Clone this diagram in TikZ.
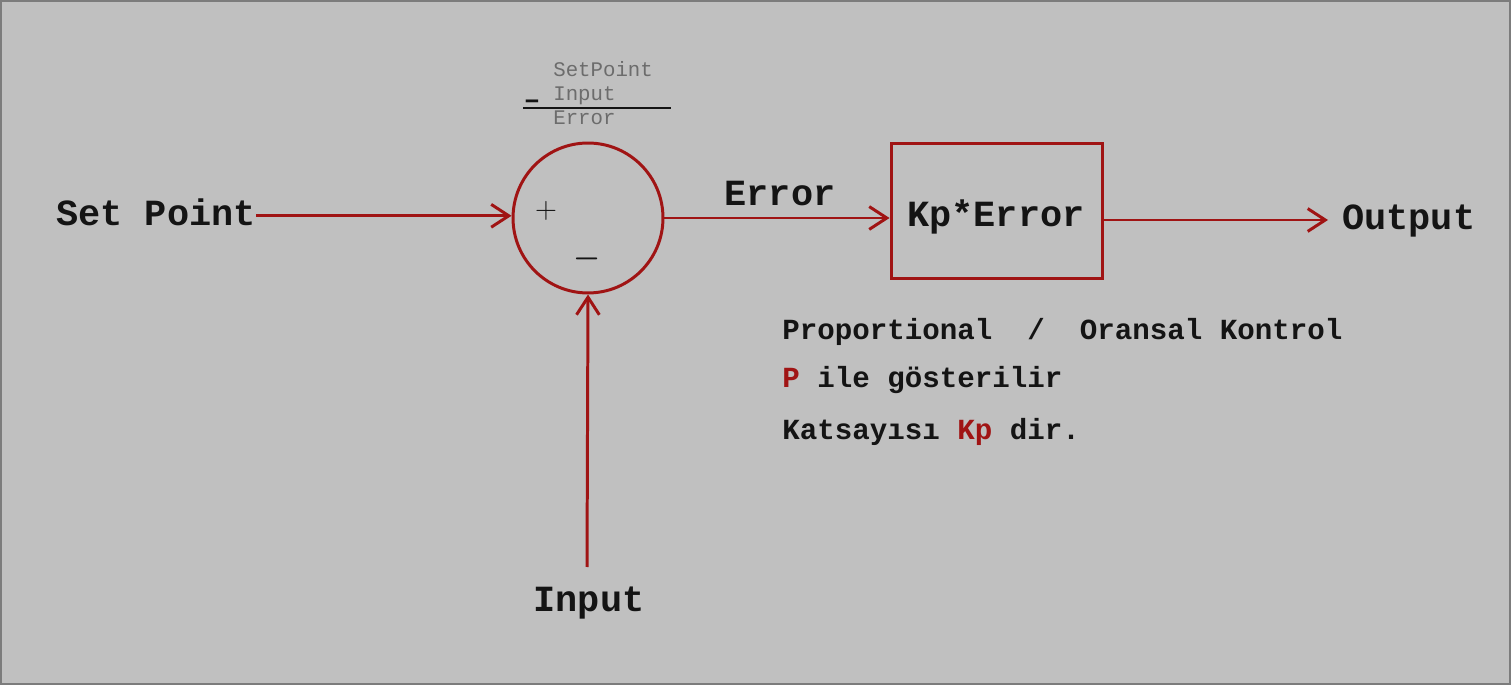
\documentclass[tikz,border=0pt]{standalone}
\usepackage{fontspec}
\setmainfont{Liberation Mono}
\usetikzlibrary{arrows.meta}
\definecolor{bg}{HTML}{C0C0C0}
\definecolor{edge}{HTML}{7C7C7C}
\definecolor{wirered}{HTML}{A01414}
\definecolor{ink}{HTML}{141414}
\definecolor{grayink}{HTML}{6C6C6C}
\begin{document}
\begin{tikzpicture}[x=0.02cm, y=-0.02cm,
    wire/.style={draw=wirered, line width=1.7pt, -{Straight Barb[length=10pt,width=13pt]}},
    big/.style={font=\fontsize{21}{25}\selectfont\bfseries, text=ink, inner sep=0pt},
    note/.style={font=\fontsize{16.6}{20}\selectfont\bfseries, text=ink, inner sep=0pt, anchor=base west},
    small/.style={font=\fontsize{11.8}{14}\selectfont, text=grayink, inner sep=0pt, anchor=base west},
    sign/.style={font=\fontsize{19}{20}\selectfont, text=ink, inner sep=0pt}]
    \fill[bg] (0, 0) rectangle (1511, 685);
    \draw[edge, line width=0.9pt] (1, 1) rectangle (1510, 684);
    % summing junction and gain block
    \node[circle, draw=wirered, line width=1.7pt, minimum size=3cm, inner sep=0pt] (S) at (588, 218) {};
    \node[draw=wirered, line width=1.7pt, minimum width=4.24cm, minimum height=2.72cm] (K) at (997, 211) {};
    \node[big, anchor=base] (KT) at (996, 227) {Kp*Error};
    \node[sign] (plus) at (546, 211) {$+$};
    \node[sign, font=\fontsize{19}{20}\selectfont\boldmath] (minus) at (587, 259) {$-$};
    % signals
    \node[big, anchor=base east] (SP) at (256, 226) {Set Point};
    \node[big, anchor=base] (E) at (780, 206) {Error};
    \coordinate (oin) at (1328, 220);
    \node[big, anchor=base west] (O) at (1342, 230) {Output};
    \coordinate (iin) at (587, 567);
    \node[big, anchor=base] (I) at (589, 611) {Input};
    \draw[wire] ([yshift=-1.7pt]SP.east) -- ([yshift=-1.7pt]SP.east -| S.west);
    \draw[wire] (S.east) -- (S.east -| K.west);
    \draw[wire] (K.east |- oin) -- (oin);
    \draw[wire] (iin) -- (S.south);
    % subtraction note
    \node[small] (n1) at (553, 77) {SetPoint};
    \node[small] (n2) at (553, 101) {Input};
    \node[small] (n3) at (553, 125) {Error};
    \node[font=\fontsize{16}{18}\selectfont\bfseries, text=ink, inner sep=0pt] (nm) at (532, 104) {–};
    \coordinate (bl) at (523, 108);
    \coordinate (br) at (671, 108);
    \draw[ink, line width=1.2pt] (bl) -- (br);
    % description
    \node[note] (t1) at (782, 340) {Proportional~~/~~Oransal Kontrol};
    \node[note] (t2) at (782, 388) {\textcolor{wirered}{P} ile gösterilir};
    \node[note] (t3) at (782, 440) {Katsayısı \textcolor{wirered}{Kp} dir.};
\end{tikzpicture}
\end{document}
